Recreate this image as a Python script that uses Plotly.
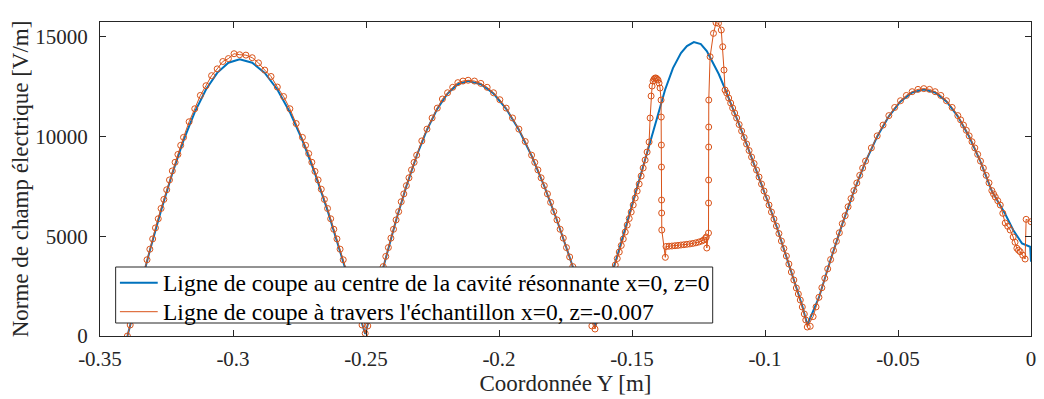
import plotly.graph_objects as go

# ---------------- data ----------------
x_ticks = [-0.35, -0.3, -0.25, -0.2, -0.15, -0.1, -0.05, 0]
x_ticklabels = ["-0.35", "-0.3", "-0.25", "-0.2", "-0.15", "-0.1", "-0.05", "0"]
y_ticks = [0, 5000, 10000, 15000]
y_ticklabels = ["0", "5000", "10000", "15000"]

blue_name = "Ligne de coupe au centre de la cavité résonnante x=0, z=0"
red_name = "Ligne de coupe à travers l'échantillon x=0, z=-0.007"

blue_x = [
    -0.3397, -0.33548, -0.33126, -0.32704, -0.32282, -0.3186, -0.31438, -0.31016, -0.30594, -0.30172, -0.2975,
    -0.29278, -0.28806, -0.28334, -0.27862, -0.2739, -0.26918, -0.26446, -0.25974, -0.25502, -0.2503,
    -0.24643, -0.24256, -0.23869, -0.23482, -0.23095, -0.22708, -0.22321, -0.21934, -0.21547, -0.2116,
    -0.20683, -0.20206, -0.19729, -0.19252, -0.18775, -0.18298, -0.17821, -0.17344, -0.16867, -0.1638,
    -0.15928, -0.15554, -0.1518, -0.14806, -0.14432, -0.14058, -0.13759, -0.1346, -0.1316, -0.12936, -0.12674,
    -0.12412, -0.12188, -0.11963, -0.11739, -0.11515, -0.11253, -0.10991, -0.10692, -0.10318, -0.09944,
    -0.0957, -0.09196, -0.08822, -0.08598, -0.0841,
    -0.07972, -0.07534, -0.07096, -0.06658, -0.0622, -0.05782, -0.05344, -0.04906, -0.04468, -0.0403,
    -0.03604, -0.03177, -0.02751, -0.02325, -0.01898, -0.01472, -0.00969, -0.0067, -0.0034, -0.0003, 0.0,
]
blue_y = [
    0, 2169, 4286, 6297, 8153, 9808, 11221, 12358, 13190, 13699, 13870,
    13699, 13190, 12358, 11221, 9808, 8153, 6297, 4286, 2169, 100,
    1999, 3949, 5802, 7512, 9037, 10339, 11387, 12154, 12623, 12780,
    12623, 12154, 11387, 10339, 9037, 7512, 5802, 3949, 1999, 480,
    2356, 4010, 5714, 7418, 9222, 10926, 12330, 13432, 14184, 14535, 14735,
    14635, 14284, 13733, 13131, 12430, 11578, 10676, 9623, 8320, 6917,
    5513, 4010, 2406, 1504, 560,
    1933, 3819, 5611, 7265, 8740, 9999, 11012, 11755, 12208, 12360,
    12208, 11755, 11012, 9999, 8740, 7265, 6115, 5313, 4646, 4476, 3724,
]

# sample-line points (connected, in order of Y)
red_x = [
    # arch 1
    -0.3397, -0.33759, -0.33548, -0.33337, -0.33126, -0.32915, -0.32704, -0.32493, -0.32282, -0.32071, -0.3186,
    -0.31649, -0.31438, -0.31227, -0.31016, -0.30805, -0.30594, -0.30383, -0.30172, -0.29961, -0.2975,
    -0.29514, -0.29278, -0.29042, -0.28806, -0.2857, -0.28334, -0.28098, -0.27862, -0.27626, -0.2739,
    -0.27154, -0.26918, -0.26682, -0.26446, -0.2621, -0.25974, -0.25738, -0.25502, -0.25266, -0.2503,
    # arch 2
    -0.24837, -0.24643, -0.2445, -0.24256, -0.24063, -0.23869, -0.23676, -0.23482, -0.23289, -0.23095,
    -0.22902, -0.22708, -0.22515, -0.22321, -0.22128, -0.21934, -0.21741, -0.21547, -0.21354, -0.2116,
    -0.20922, -0.20683, -0.20445, -0.20206, -0.19968, -0.19729, -0.19491, -0.19252, -0.19014, -0.18775,
    -0.18537, -0.18298, -0.1806, -0.17821, -0.17583, -0.17344, -0.17106, -0.16867, -0.16629, -0.1639,
    # arch 3 (sample region)
    -0.16227, -0.16077, -0.15928, -0.15778, -0.15628, -0.15479, -0.15329, -0.1518, -0.1503, -0.1488,
    -0.14731, -0.14581, -0.14432, -0.14357, -0.14319, -0.14282, -0.14245, -0.14207, -0.1417, -0.14132,
    -0.14095, -0.14058, -0.1402, -0.13983, -0.13945, -0.13908,
    -0.139, -0.13895, -0.13892, -0.13888, -0.13885, -0.1388, -0.13747,
    -0.13721, -0.13609, -0.13497, -0.13385, -0.13272, -0.1316, -0.13048, -0.12936, -0.12824, -0.12711,
    -0.12599, -0.12487, -0.12375, -0.123, -0.12244, -0.12206, -0.12188,
    -0.12124, -0.12122, -0.1212, -0.12118, -0.12116, -0.12114, -0.12064, -0.11937, -0.1184, -0.1175,
    -0.11644, -0.1159, -0.11541, -0.11503,
    -0.11365, -0.11216, -0.11066, -0.10879, -0.10692, -0.10505, -0.10318, -0.10131, -0.09944, -0.09757,
    -0.0957, -0.09383, -0.09196, -0.09009, -0.08822, -0.08673, -0.08523, -0.08411,
    # arch 4
    -0.08191, -0.07972, -0.07753, -0.07534, -0.07315, -0.07096, -0.06877, -0.06658, -0.06439, -0.0622,
    -0.06001, -0.05782, -0.05563, -0.05344, -0.05125, -0.04906, -0.04687, -0.04468, -0.04249, -0.0403,
    -0.03817, -0.03604, -0.0339, -0.03177, -0.02964, -0.02751, -0.02538, -0.02325, -0.02112, -0.01898,
    -0.01685, -0.01472, -0.01343, -0.01156, -0.00969, -0.00782, -0.0067, -0.00531, -0.00408, -0.00221,
    -0.00183, 0.0,
]
red_y = [
    # arch 1
    0, 1150, 2202, 3240, 4351, 5420, 6392, 7330, 8276, 9100, 9956,
    10740, 11391, 12060, 12545, 13050, 13391, 13760, 13907, 14150, 14100,
    14080, 13950, 13691, 13330, 13009, 12480, 12005, 11391, 10650, 9956,
    9144, 8250, 7357, 6392, 5350, 4351, 3286, 2202, 1105, 130,
    # arch 2
    1006, 2005, 2992, 3990, 4906, 5820, 6730, 7536, 8325, 9065,
    9780, 10371, 10930, 11423, 11880, 12193, 12466, 12700, 12780, 12820,
    12780, 12662, 12466, 12193, 11844, 11423, 10930, 10371, 9748, 9065,
    8325, 7536, 6698, 5820, 4906, 3961, 2992, 2005, 1006, 350,
    # arch 3 (sample region)
    1103, 1704, 2356, 2957, 3559, 4210, 4862, 5563, 6215, 6917,
    7618, 8420, 9222, 9723, 10926, 12029, 12530, 12781, 12881, 12931,
    12931, 12881, 12831, 12680, 12430, 11828,
    10976, 9573, 8470, 6816, 6165, 5313, 3944,
    4486, 4501, 4511, 4526, 4541, 4561, 4576, 4596, 4616, 4641,
    4671, 4711, 4761, 4812, 4887, 4962, 4411,
    5162, 6666, 7819, 9473, 10475, 11828, 13999, 15171, 15703, 15673,
    15337, 14500, 13332, 12330,
    11929, 11427, 10926, 10275, 9623, 8971, 8320, 7618, 6917, 6215,
    5513, 4761, 4010, 3208, 2406, 1804, 1103, 451,
    # arch 4
    973, 1939, 2894, 3832, 4745, 5630, 6479, 7289, 8053, 8768,
    9429, 10032, 10572, 11048, 11456, 11794, 12058, 12247, 12362, 12400,
    12362, 12247, 12058, 11794, 11456, 11048, 10572, 10032, 9429, 8768,
    8053, 7289, 6967, 6566, 5664, 5313, 4962, 4396, 4225, 3859,
    5849, 5729,
]

# further mesh nodes of the same sample line (markers only, read on the steep flanks)
red_extra_x = [
    -0.33865, -0.33654, -0.33443, -0.33232, -0.3302, -0.3281, -0.32599, -0.32388, -0.32177, -0.31966,
    -0.27272, -0.27036, -0.268, -0.26564, -0.26328, -0.26092, -0.25856, -0.2562, -0.25384, -0.25148,
    -0.24933, -0.2474, -0.24546, -0.24353, -0.24159, -0.23966, -0.23772, -0.23579, -0.23385, -0.23192,
    -0.18656, -0.18417, -0.18179, -0.1794, -0.17702, -0.17463, -0.17225, -0.16986, -0.16748, -0.16509,
    -0.16301, -0.16152, -0.16003, -0.15853, -0.15703, -0.15554, -0.15404, -0.15254, -0.15105, -0.14955,
    -0.14806, -0.14656, -0.14506,
    -0.1144, -0.1129, -0.11141, -0.10972, -0.10785, -0.10598, -0.10411, -0.10224, -0.10037, -0.0985,
    -0.09664, -0.09477, -0.0929, -0.09103, -0.08916, -0.08747, -0.08598, -0.08467,
    -0.083, -0.08081, -0.07862, -0.07643, -0.07424, -0.07205, -0.06986, -0.06767, -0.06548, -0.06329,
    -0.02645, -0.02431, -0.02218, -0.02005, -0.01792, -0.01579, -0.01408, -0.0125, -0.0106, -0.00875,
    -0.006, -0.0047, -0.0031,
]
red_extra_y = [
    553, 1654, 2747, 3821, 4867, 5876, 6847, 7823, 8708, 9557,
    9557, 8708, 7823, 6847, 5876, 4867, 3821, 2747, 1654, 553,
    504, 1506, 2501, 3479, 4432, 5350, 6234, 7123, 7929, 8702,
    8702, 7929, 7123, 6234, 5350, 4432, 3479, 2501, 1506, 504,
    802, 1403, 2030, 2656, 3258, 3884, 4536, 5212, 5889, 6566,
    7267, 8019, 8821,
    12179, 11678, 11177, 10600, 9949, 9297, 8646, 7969, 7267, 6566,
    5864, 5137, 4386, 3609, 2807, 2105, 1453, 802,
    487, 1457, 2419, 3365, 4287, 5175, 6030, 6889, 7669, 8417,
    10836, 10311, 9738, 9105, 8417, 7677, 7120, 6780, 6150, 5500,
    4700, 4300, 4050,
]

# ---------------- figure ----------------
BLUE = "#0072BD"
RED = "#D95319"
AX = "#262626"
FONT = "Liberation Serif, Times New Roman, serif"

fig = go.Figure()
fig.add_trace(go.Scatter(
    x=blue_x, y=blue_y, mode="lines", name=blue_name,
    line=dict(color=BLUE, width=2),
))
fig.add_trace(go.Scatter(
    x=red_x, y=red_y, mode="lines+markers", name=red_name,
    line=dict(color=RED, width=1),
    marker=dict(symbol="circle-open", size=6, color=RED, line=dict(width=1, color=RED)),
))
fig.add_trace(go.Scatter(
    x=red_extra_x, y=red_extra_y, mode="markers", name=red_name, showlegend=False,
    marker=dict(symbol="circle-open", size=6, color=RED, line=dict(width=1, color=RED)),
))

axis_common = dict(
    showline=True, linecolor=AX, linewidth=1, mirror="ticks",
    ticks="inside", ticklen=6, tickcolor=AX, tickwidth=1,
    showgrid=False, zeroline=False,
    tickfont=dict(family=FONT, size=21, color=AX),
)

# legend drawn as a boxed key in paper coordinates (MATLAB-style compact rows)
LEG_X0, LEG_X1, LEG_Y0, LEG_Y1 = 0.0168, 0.6581, 0.0414, 0.2197
ROW_Y = [0.1697, 0.0774]
SAMPLE_X0, SAMPLE_X1, TEXT_X = 0.0214, 0.0620, 0.0662

shapes = [
    dict(type="rect", xref="paper", yref="paper", x0=LEG_X0, x1=LEG_X1, y0=LEG_Y0, y1=LEG_Y1,
         fillcolor="white", line=dict(color=AX, width=1), layer="above"),
    dict(type="line", xref="paper", yref="paper", x0=SAMPLE_X0, x1=SAMPLE_X1, y0=ROW_Y[0], y1=ROW_Y[0],
         line=dict(color=BLUE, width=2), layer="above"),
    dict(type="line", xref="paper", yref="paper", x0=SAMPLE_X0, x1=SAMPLE_X1, y0=ROW_Y[1], y1=ROW_Y[1],
         line=dict(color=RED, width=1), layer="above"),
]
annotations = [
    dict(text=name, xref="paper", yref="paper", x=TEXT_X, y=yy, xanchor="left", yanchor="middle",
         showarrow=False, borderpad=0, font=dict(family=FONT, size=23.5, color="black"))
    for name, yy in zip([blue_name, red_name], ROW_Y)
]

fig.update_layout(
    width=1044, height=399,
    margin=dict(l=100, r=8, t=22, b=63),
    plot_bgcolor="white", paper_bgcolor="white",
    font=dict(family=FONT, size=21, color=AX),
    xaxis=dict(
        range=[-0.35, 0], tickmode="array", tickvals=x_ticks, ticktext=x_ticklabels,
        title=dict(text="Coordonnée Y [m]", font=dict(family=FONT, size=23, color=AX), standoff=4),
        ticklabelstandoff=4,
        **axis_common,
    ),
    yaxis=dict(
        range=[0, 15740], tickmode="array", tickvals=y_ticks, ticktext=y_ticklabels,
        title=dict(text="Norme de champ électrique [V/m]", font=dict(family=FONT, size=23, color=AX), standoff=0),
        ticklabelstandoff=7,
        **axis_common,
    ),
    shapes=shapes,
    annotations=annotations,
    showlegend=False,
)

fig.write_html("out.html")
